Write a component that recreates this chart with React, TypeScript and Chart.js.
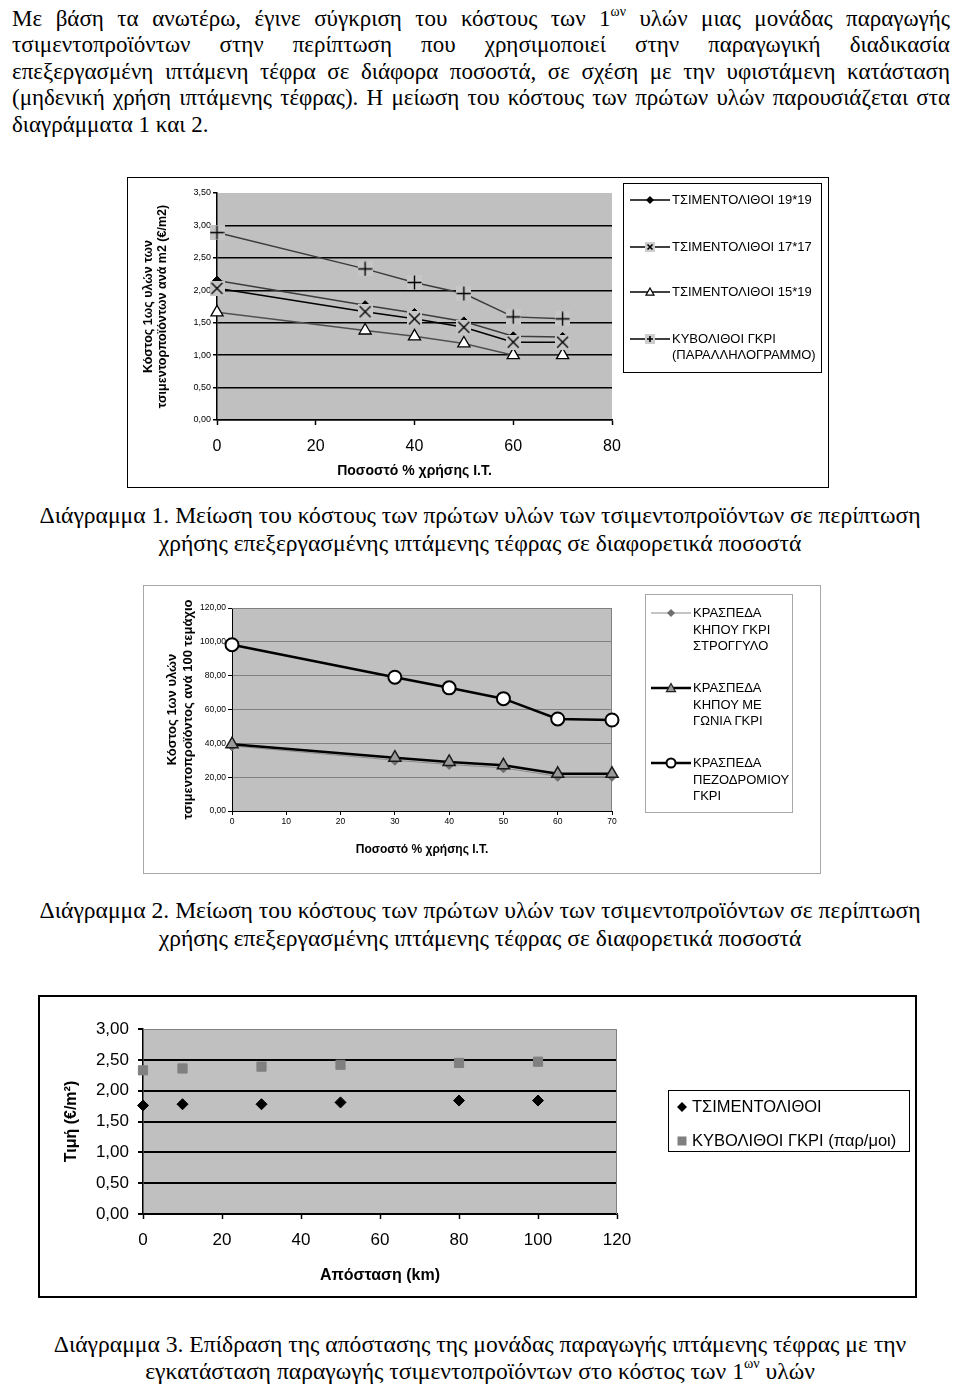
import React, { useEffect, useRef } from 'react';
import { Chart, registerables } from 'chart.js';

Chart.register(...registerables);
Chart.defaults.font.family = "'Liberation Sans', Arial, sans-serif";
Chart.defaults.color = '#000';

// ---------------- Chart 1 data ----------------
const c1Pct = [0, 30, 40, 50, 60, 70];
const c1Tsim1919 = [2.15, 1.77, 1.65, 1.52, 1.29, 1.28];
const c1Tsim1717 = [2.03, 1.67, 1.56, 1.43, 1.2, 1.2];
const c1Tsim1519 = [1.66, 1.38, 1.29, 1.18, 1.0, 1.0];
const c1Kyvol = [2.89, 2.33, 2.12, 1.95, 1.59, 1.56];
const c1SeriesNames = ['ΤΣΙΜΕΝΤΟΛΙΘΟΙ 19*19', 'ΤΣΙΜΕΝΤΟΛΙΘΟΙ 17*17', 'ΤΣΙΜΕΝΤΟΛΙΘΟΙ 15*19', 'ΚΥΒΟΛΙΘΟΙ ΓΚΡΙ (ΠΑΡΑΛΛΗΛΟΓΡΑΜΜΟ)'];
const c1LegendLines = [['ΤΣΙΜΕΝΤΟΛΙΘΟΙ 19*19'], ['ΤΣΙΜΕΝΤΟΛΙΘΟΙ 17*17'], ['ΤΣΙΜΕΝΤΟΛΙΘΟΙ 15*19'], ['ΚΥΒΟΛΙΘΟΙ ΓΚΡΙ', '(ΠΑΡΑΛΛΗΛΟΓΡΑΜΜΟ)']];
const c1YTicks = ['0,00', '0,50', '1,00', '1,50', '2,00', '2,50', '3,00', '3,50'];
const c1XTicks = ['0', '20', '40', '60', '80'];
const c1YTitle = ['Κόστος 1ως υλών των', 'τσιμεντορποϊόντων ανά m2 (€/m2)'];
const c1XTitle = 'Ποσοστό % χρήσης Ι.Τ.';

// ---------------- Chart 2 data ----------------
const c2Pct = [0, 30, 40, 50, 60, 70];
const c2Stroggylo = [38.5, 30.0, 27.5, 25.5, 20.5, 20.5];
const c2Gonia = [39.5, 31.5, 29.0, 27.0, 22.0, 22.0];
const c2Pezodromiou = [98.3, 79.1, 72.8, 66.4, 54.4, 53.8];
const c2LegendLines = [
  ['ΚΡΑΣΠΕΔΑ', 'ΚΗΠΟΥ ΓΚΡΙ', 'ΣΤΡΟΓΓΥΛΟ'],
  ['ΚΡΑΣΠΕΔΑ', 'ΚΗΠΟΥ ΜΕ', 'ΓΩΝΙΑ ΓΚΡΙ'],
  ['ΚΡΑΣΠΕΔΑ', 'ΠΕΖΟΔΡΟΜΙΟΥ', 'ΓΚΡΙ'],
];
const c2YTicks = ['0,00', '20,00', '40,00', '60,00', '80,00', '100,00', '120,00'];
const c2XTicks = ['0', '10', '20', '30', '40', '50', '60', '70'];
const c2YTitle = ['Κόστος 1ων υλών', 'τσιμεντοπροϊόντος ανά 100 τεμάχιο'];
const c2XTitle = 'Ποσοστό % χρήσης Ι.Τ.';

// ---------------- Chart 3 data ----------------
const c3Km = [0, 10, 30, 50, 80, 100];
const c3Tsimentolithoi = [1.76, 1.78, 1.78, 1.81, 1.84, 1.84];
const c3Kyvolithoi = [2.33, 2.36, 2.39, 2.42, 2.45, 2.47];
const c3SeriesNames = ['ΤΣΙΜΕΝΤΟΛΙΘΟΙ', 'ΚΥΒΟΛΙΘΟΙ ΓΚΡΙ (παρ/μοι)'];
const c3YTicks = ['0,00', '0,50', '1,00', '1,50', '2,00', '2,50', '3,00'];
const c3XTicks = ['0', '20', '40', '60', '80', '100', '120'];
const c3YTitle = 'Τιμή (€/m²)';
const c3XTitle = 'Απόσταση (km)';

// ---------------- Text ----------------
const introLines = [
  'Με βάση τα ανωτέρω, έγινε σύγκριση του κόστους των 1^ων υλών μιας μονάδας παραγωγής',
  'τσιμεντοπροϊόντων στην περίπτωση που χρησιμοποιεί στην παραγωγική διαδικασία',
  'επεξεργασμένη ιπτάμενη τέφρα σε διάφορα ποσοστά, σε σχέση με την υφιστάμενη κατάσταση',
  '(μηδενική χρήση ιπτάμενης τέφρας). Η μείωση του κόστους των πρώτων υλών παρουσιάζεται στα',
  'διαγράμματα 1 και 2.',
];
const caption1 = ['Διάγραμμα 1. Μείωση του κόστους των πρώτων υλών των τσιμεντοπροϊόντων σε περίπτωση', 'χρήσης επεξεργασμένης ιπτάμενης τέφρας σε διαφορετικά ποσοστά'];
const caption2 = ['Διάγραμμα 2. Μείωση του κόστους των πρώτων υλών των τσιμεντοπροϊόντων σε περίπτωση', 'χρήσης επεξεργασμένης ιπτάμενης τέφρας σε διαφορετικά ποσοστά'];
const caption3 = ['Διάγραμμα 3. Επίδραση της απόστασης της μονάδας παραγωγής ιπτάμενης τέφρας με την', 'εγκατάσταση παραγωγής τσιμεντοπροϊόντων στο κόστος των 1^ων υλών'];

const SERIF = "'Liberation Serif', 'Times New Roman', serif";
const SANS = "'Liberation Sans', Arial, sans-serif";

const xy = (xs: number[], ys: number[]) => xs.map((x, i) => ({ x, y: ys[i] }));

function squareMarker(kind: 'plus' | 'cross', size: number, bg: string) {
  const c = document.createElement('canvas');
  c.width = size;
  c.height = size;
  const g = c.getContext('2d')!;
  g.fillStyle = bg;
  g.fillRect(0, 0, size, size);
  g.strokeStyle = '#000';
  g.lineWidth = 1.4;
  g.beginPath();
  const m = size / 2;
  if (kind === 'plus') {
    g.moveTo(0.5, m); g.lineTo(size - 0.5, m);
    g.moveTo(m, 0.5); g.lineTo(m, size - 0.5);
  } else {
    g.moveTo(2, 2); g.lineTo(size - 2, size - 2);
    g.moveTo(size - 2, 2); g.lineTo(2, size - 2);
  }
  g.stroke();
  return c;
}

function plotArea(fill: string, edge: string | null) {
  return {
    id: 'plotArea',
    beforeDraw(chart: any) {
      const { ctx, chartArea: a } = chart;
      ctx.save();
      ctx.fillStyle = fill;
      ctx.fillRect(a.left, a.top, a.right - a.left, a.bottom - a.top);
      ctx.restore();
    },
    beforeDatasetsDraw(chart: any) {
      if (!edge) return;
      const { ctx, chartArea: a } = chart;
      const t = Math.round(a.top) + 0.5;
      const r = Math.round(a.right) - 0.5;
      ctx.save();
      ctx.strokeStyle = edge;
      ctx.lineWidth = 1;
      ctx.beginPath();
      ctx.moveTo(a.left, t);
      ctx.lineTo(r, t);
      ctx.lineTo(r, a.bottom);
      ctx.stroke();
      ctx.restore();
    },
  };
}

const baseOptions = {
  responsive: false,
  maintainAspectRatio: false,
  animation: false,
  devicePixelRatio: 1,
  events: [],
};

function chart1Config() {
  const plusImg = squareMarker('plus', 15, '#c6c6c6');
  const crossImg = squareMarker('cross', 15, '#c6c6c6');
  const ds = [
    { label: c1SeriesNames[0], data: xy(c1Pct, c1Tsim1919), borderColor: '#3c3c3c', pointStyle: 'rectRot', pointRadius: 4.5, pointBackgroundColor: '#000', pointBorderColor: '#000', pointBorderWidth: 1, order: 4 },
    { label: c1SeriesNames[1], data: xy(c1Pct, c1Tsim1717), borderColor: '#000', pointStyle: crossImg, pointRadius: 7, order: 2 },
    { label: c1SeriesNames[2], data: xy(c1Pct, c1Tsim1519), borderColor: '#505050', pointStyle: 'triangle', pointRadius: 7, pointBackgroundColor: '#fff', pointBorderColor: '#000', pointBorderWidth: 1.3, order: 3 },
    { label: c1SeriesNames[3], data: xy(c1Pct, c1Kyvol), borderColor: '#3c3c3c', pointStyle: plusImg, pointRadius: 7, order: 1 },
  ].map((d) => ({ ...d, borderWidth: 1.5, clip: false, tension: 0, fill: false }));
  return {
    type: 'line',
    data: { datasets: ds },
    plugins: [plotArea('#c0c0c0', null)],
    options: {
      ...baseOptions,
      layout: { padding: { left: 0, right: 216, top: 15, bottom: 0 } },
      plugins: { legend: { display: false }, tooltip: { enabled: false } },
      scales: {
        x: {
          type: 'linear', min: 0, max: 80,
          ticks: { stepSize: 20, padding: 12, color: '#000', font: { size: 16 }, callback: (_v: any, i: number) => c1XTicks[i] },
          grid: { drawOnChartArea: false, tickLength: 5, tickColor: '#000', tickWidth: 1.5 },
          border: { color: '#000', width: 1.5 },
          title: { display: true, text: c1XTitle, color: '#000', font: { size: 14, weight: 'bold' }, padding: { top: 0, bottom: 7 } },
          afterFit: (s: any) => { s.height = 67; },
        },
        y: {
          type: 'linear', min: 0, max: 3.5,
          ticks: { stepSize: 0.5, padding: 2, color: '#000', font: { size: 9 }, callback: (_v: any, i: number) => c1YTicks[i] },
          grid: { color: (c: any) => (c.tick && c.tick.value >= 3.5 ? 'rgba(0,0,0,0)' : '#000'), lineWidth: 1.5, tickLength: 4, tickColor: '#000' },
          border: { color: '#000', width: 1.5 },
          title: { display: true, text: c1YTitle, color: '#000', font: { size: 12.5, weight: 'bold', lineHeight: 1.15 }, padding: { top: 13, bottom: 0 } },
          afterFit: (s: any) => { s.width = 89; },
        },
      },
    },
  };
}

function chart2Config() {
  const ds = [
    { label: c2LegendLines[2].join(' '), data: xy(c2Pct, c2Pezodromiou), borderColor: '#000', borderWidth: 2.5, pointStyle: 'circle', pointRadius: 6.5, pointBackgroundColor: '#fff', pointBorderColor: '#000', pointBorderWidth: 2, order: 1 },
    { label: c2LegendLines[1].join(' '), data: xy(c2Pct, c2Gonia), borderColor: '#000', borderWidth: 2.5, pointStyle: 'triangle', pointRadius: 7, pointBackgroundColor: '#9a9a9a', pointBorderColor: '#1a1a1a', pointBorderWidth: 1.5, order: 2 },
    { label: c2LegendLines[0].join(' '), data: xy(c2Pct, c2Stroggylo), borderColor: '#8a8a8a', borderWidth: 1, pointStyle: 'rectRot', pointRadius: 5, pointBackgroundColor: '#6e6e6e', pointBorderColor: '#6e6e6e', pointBorderWidth: 1, order: 3 },
  ].map((d) => ({ ...d, clip: false, tension: 0, fill: false }));
  return {
    type: 'line',
    data: { datasets: ds },
    plugins: [plotArea('#c0c0c0', '#808080')],
    options: {
      ...baseOptions,
      layout: { padding: { left: 0, right: 208, top: 22, bottom: 0 } },
      plugins: { legend: { display: false }, tooltip: { enabled: false } },
      scales: {
        x: {
          type: 'linear', min: 0, max: 70,
          ticks: { stepSize: 10, padding: 2, color: '#000', font: { size: 8.5 }, callback: (_v: any, i: number) => c2XTicks[i] },
          grid: { drawOnChartArea: false, tickLength: 4, tickColor: '#000' },
          border: { color: '#000', width: 1 },
          title: { display: true, text: c2XTitle, color: '#000', font: { size: 12, weight: 'bold' }, padding: { top: 0, bottom: 16 } },
          afterFit: (s: any) => { s.height = 62; },
        },
        y: {
          type: 'linear', min: 0, max: 120,
          ticks: { stepSize: 20, padding: 2, color: '#000', font: { size: 8.5 }, callback: (_v: any, i: number) => c2YTicks[i] },
          grid: { color: '#808080', lineWidth: 1, tickLength: 4, tickColor: '#000' },
          border: { color: '#000', width: 1 },
          title: { display: true, text: c2YTitle, color: '#000', font: { size: 13, weight: 'bold', lineHeight: 1.18 }, padding: { top: 21, bottom: 0 } },
          afterFit: (s: any) => { s.width = 88; },
        },
      },
    },
  };
}

function chart3Config() {
  const ds = [
    { label: c3SeriesNames[0], data: xy(c3Km, c3Tsimentolithoi), pointStyle: 'rectRot', pointRadius: 5.5, pointBackgroundColor: '#000', pointBorderColor: '#000', pointBorderWidth: 1, order: 1 },
    { label: c3SeriesNames[1], data: xy(c3Km, c3Kyvolithoi), pointStyle: 'rect', pointRadius: 6.5, pointBackgroundColor: '#808080', pointBorderColor: '#808080', pointBorderWidth: 1, order: 2 },
  ].map((d) => ({ ...d, showLine: false, clip: false }));
  return {
    type: 'line',
    data: { datasets: ds },
    plugins: [plotArea('#c0c0c0', '#808080')],
    options: {
      ...baseOptions,
      layout: { padding: { left: 0, right: 298, top: 32, bottom: 0 } },
      plugins: { legend: { display: false }, tooltip: { enabled: false } },
      scales: {
        x: {
          type: 'linear', min: 0, max: 120,
          ticks: { stepSize: 20, padding: 11, color: '#000', font: { size: 17 }, callback: (_v: any, i: number) => c3XTicks[i] },
          grid: { drawOnChartArea: false, tickLength: 5, tickColor: '#000', tickWidth: 1.5 },
          border: { color: '#000', width: 1.5 },
          title: { display: true, text: c3XTitle, color: '#000', font: { size: 16, weight: 'bold' }, padding: { top: 0, bottom: 10.5 } },
          afterFit: (s: any) => { s.height = 82; },
        },
        y: {
          type: 'linear', min: 0, max: 3,
          ticks: { stepSize: 0.5, padding: 9, color: '#000', font: { size: 17 }, callback: (_v: any, i: number) => c3YTicks[i] },
          grid: { color: (c: any) => (c.tick && c.tick.value >= 3 ? 'rgba(0,0,0,0)' : '#000'), lineWidth: 2, tickLength: 5, tickColor: '#000' },
          border: { color: '#000', width: 1.5 },
          title: { display: true, text: c3YTitle, color: '#000', font: { size: 16, weight: 'bold' }, padding: { top: 22, bottom: 0 } },
          afterFit: (s: any) => { s.width = 103; },
        },
      },
    },
  };
}

type BoxProps = { left: number; top: number; width: number; height: number; bw: number; color: string; build: () => any };

function ChartBox({ left, top, width, height, bw, color, build }: BoxProps) {
  const ref = useRef<HTMLCanvasElement | null>(null);
  useEffect(() => {
    if (!ref.current) return;
    const chart = new Chart(ref.current, build());
    return () => chart.destroy();
  }, []);
  return (
    <div style={{ position: 'absolute', left, top, width, height, border: `${bw}px solid ${color}`, boxSizing: 'border-box' }}>
      <canvas ref={ref} width={width - 2 * bw} height={height - 2 * bw} style={{ display: 'block' }} />
    </div>
  );
}

function renderWords(line: string) {
  return line.split(' ').map((w, i) => {
    if (w.includes('^')) {
      const [a, b] = w.split('^');
      return (
        <span key={i}>
          {a}
          <sup style={{ fontSize: '0.6em', verticalAlign: '0.75em', lineHeight: 0 }}>{b}</sup>
        </span>
      );
    }
    return <span key={i}>{w}</span>;
  });
}

function renderInline(line: string) {
  const words = renderWords(line);
  const out: React.ReactNode[] = [];
  words.forEach((w, i) => {
    if (i > 0) out.push(' ');
    out.push(w);
  });
  return out;
}

function Intro() {
  return (
    <div style={{ position: 'absolute', left: 12, top: 6, width: 938, fontFamily: SERIF, fontSize: 23, lineHeight: '26.4px', color: '#000' }}>
      {introLines.map((l, i) =>
        i < introLines.length - 1 ? (
          <div key={i} style={{ display: 'flex', justifyContent: 'space-between', whiteSpace: 'nowrap', height: 26.4 }}>
            {renderWords(l)}
          </div>
        ) : (
          <div key={i} style={{ whiteSpace: 'nowrap', height: 26.4 }}>{renderInline(l)}</div>
        )
      )}
    </div>
  );
}

function Caption({ lines, top, lh }: { lines: string[]; top: number; lh: number }) {
  return (
    <div style={{ position: 'absolute', left: 0, top, width: 960, textAlign: 'center', fontFamily: SERIF, fontSize: 23.6, lineHeight: `${lh}px`, color: '#000' }}>
      {lines.map((l, i) => (
        <div key={i} style={{ whiteSpace: 'nowrap', height: lh }}>{renderInline(l)}</div>
      ))}
    </div>
  );
}

function Marker({ kind, size }: { kind: string; size: number }) {
  const h = size / 2;
  switch (kind) {
    case 'diamond':
      return <polygon points={`20,${8 - h} ${20 + h},8 20,${8 + h} ${20 - h},8`} fill="#000" />;
    case 'cross':
      return (
        <g>
          <rect x={20 - h} y={8 - h} width={size} height={size} fill="#cdcdcd" />
          <path d={`M${20 - h + 2.5},${8 - h + 2.5} L${20 + h - 2.5},${8 + h - 2.5} M${20 + h - 2.5},${8 - h + 2.5} L${20 - h + 2.5},${8 + h - 2.5}`} stroke="#000" strokeWidth={1.6} />
        </g>
      );
    case 'triangle':
      return <polygon points={`20,${8 - h} ${20 + h},${8 + h * 0.8} ${20 - h},${8 + h * 0.8}`} fill="#fff" stroke="#000" strokeWidth={1.2} />;
    case 'plus':
      return (
        <g>
          <rect x={20 - h} y={8 - h} width={size} height={size} fill="#cdcdcd" />
          <path d={`M${20 - h + 2},8 L${20 + h - 2},8 M20,${8 - h + 2} L20,${8 + h - 2}`} stroke="#000" strokeWidth={1.6} />
        </g>
      );
    case 'gdiamond':
      return <polygon points={`20,${8 - h} ${20 + h},8 20,${8 + h} ${20 - h},8`} fill="#6e6e6e" />;
    case 'gtriangle':
      return <polygon points={`20,${8 - h} ${20 + h},${8 + h * 0.8} ${20 - h},${8 + h * 0.8}`} fill="#9a9a9a" stroke="#222" strokeWidth={1.2} />;
    case 'circle':
      return <circle cx={20} cy={8} r={h} fill="#fff" stroke="#000" strokeWidth={2} />;
    default:
      return null;
  }
}

function LegendSample({ left, cy, kind, size, line, lw }: { left: number; cy: number; kind: string; size: number; line: string; lw: number }) {
  return (
    <svg width={40} height={16} style={{ position: 'absolute', left, top: cy - 8 }}>
      <line x1={0} y1={8} x2={40} y2={8} stroke={line} strokeWidth={lw} />
      <Marker kind={kind} size={size} />
    </svg>
  );
}

function LegendText({ left, cy, lines, size, lh }: { left: number; cy: number; lines: string[]; size: number; lh: number }) {
  return (
    <div style={{ position: 'absolute', left, top: cy - lh / 2, fontFamily: SANS, fontSize: size, lineHeight: `${lh}px`, color: '#000', whiteSpace: 'nowrap' }}>
      {lines.map((l, i) => (
        <div key={i}>{l}</div>
      ))}
    </div>
  );
}

function Legend1() {
  const rows = [200, 246.5, 291.7, 339.3];
  const kinds = ['diamond', 'cross', 'triangle', 'plus'];
  const sizes = [8, 10, 8, 10];
  return (
    <>
      <div style={{ position: 'absolute', left: 623, top: 183, width: 199, height: 190, border: '1px solid #000', boxSizing: 'border-box' }} />
      {rows.map((cy, i) => (
        <React.Fragment key={i}>
          <LegendSample left={630} cy={cy} kind={kinds[i]} size={sizes[i]} line="#000" lw={1.3} />
          <LegendText left={672} cy={cy} lines={c1LegendLines[i]} size={13} lh={15.7} />
        </React.Fragment>
      ))}
    </>
  );
}

function Legend2() {
  const rows = [613.3, 688.3, 763.3];
  const kinds = ['gdiamond', 'gtriangle', 'circle'];
  const lines = ['#8a8a8a', '#000', '#000'];
  const lws = [1, 2.5, 2.5];
  const sizes = [8, 9, 9];
  return (
    <>
      <div style={{ position: 'absolute', left: 645, top: 594, width: 148, height: 219, border: '1px solid #a8a8a8', boxSizing: 'border-box' }} />
      {rows.map((cy, i) => (
        <React.Fragment key={i}>
          <LegendSample left={651} cy={cy} kind={kinds[i]} size={sizes[i]} line={lines[i]} lw={lws[i]} />
          <LegendText left={693} cy={cy} lines={c2LegendLines[i]} size={13} lh={16.7} />
        </React.Fragment>
      ))}
    </>
  );
}

function Legend3() {
  return (
    <>
      <div style={{ position: 'absolute', left: 668, top: 1090, width: 242, height: 62, border: '1px solid #000', boxSizing: 'border-box' }} />
      <svg width={14} height={14} style={{ position: 'absolute', left: 675, top: 1100 }}>
        <polygon points="7,2 12,7 7,12 2,7" fill="#000" />
      </svg>
      <svg width={14} height={14} style={{ position: 'absolute', left: 675, top: 1134 }}>
        <rect x={2.5} y={2.5} width={9} height={9} fill="#808080" />
      </svg>
      <LegendText left={692} cy={1106.7} lines={[c3SeriesNames[0]]} size={16.5} lh={19} />
      <LegendText left={692} cy={1140.7} lines={[c3SeriesNames[1]]} size={16.5} lh={19} />
    </>
  );
}

export default function App() {
  return (
    <div style={{ position: 'absolute', left: 0, top: 0, width: 960, height: 1390, background: '#fff', overflow: 'hidden' }}>
      <Intro />
      <ChartBox left={127} top={177} width={702} height={311} bw={1} color="#000" build={chart1Config} />
      <Legend1 />
      <Caption lines={caption1} top={501} lh={28} />
      <ChartBox left={143} top={585} width={678} height={289} bw={1} color="#a8a8a8" build={chart2Config} />
      <Legend2 />
      <Caption lines={caption2} top={896} lh={28} />
      <ChartBox left={38} top={995} width={879} height={303} bw={2} color="#000" build={chart3Config} />
      <Legend3 />
      <Caption lines={caption3} top={1331} lh={27} />
    </div>
  );
}
